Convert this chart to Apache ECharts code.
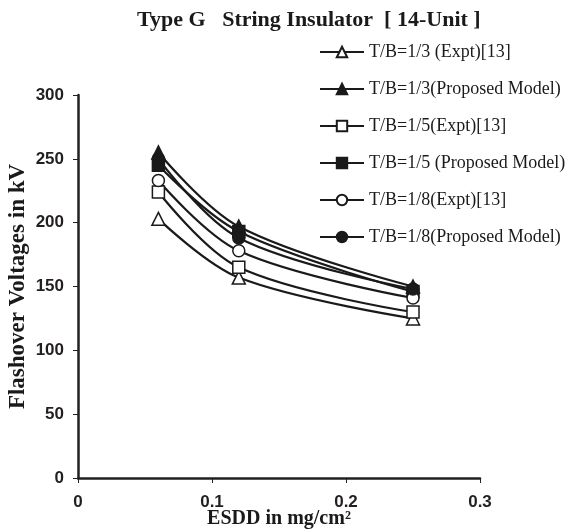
<!DOCTYPE html>
<html>
<head>
<meta charset="utf-8">
<script src="https://cdn.jsdelivr.net/npm/echarts@6/dist/echarts.min.js"></script>
<style>
  html, body { margin: 0; padding: 0; background: #fff; }
  #chart { width: 572px; height: 532px; }
</style>
</head>
<body>
<div id="chart"></div>
<script>
// ESDD values (mg/cm2)
var esdd = [0.06, 0.12, 0.25];

var names = [
    'T/B=1/3 (Expt)[13]',
    'T/B=1/3(Proposed Model)',
    'T/B=1/5(Expt)[13]',
    'T/B=1/5 (Proposed Model)',
    'T/B=1/8(Expt)[13]',
    'T/B=1/8(Proposed Model)'
];

// flashover voltages in kV
var tb3Expt = [203, 157, 125];
var tb3Model = [255, 197, 150];
var tb5Expt = [224, 165, 130];
var tb5Model = [245, 193, 146];
var tb8Expt = [233, 178, 141];
var tb8Model = [250, 188, 148];

var yTicks = [0, 50, 100, 150, 200, 250, 300];
var xTicks = [0, 0.1, 0.2, 0.3];

var symbols = ['triangle', 'triangle', 'rect', 'rect', 'circle', 'circle'];
var filled = [false, true, false, true, false, true];
var values = [tb3Expt, tb3Model, tb5Expt, tb5Model, tb8Expt, tb8Model];

function makeSeries(i) {
    var pts = esdd.map(function (x, k) { return [x, values[i][k]]; });
    return {
        name: names[i],
        type: 'line',
        data: pts,
        smooth: 0.35,
        symbol: symbols[i],
        symbolSize: symbols[i] === 'triangle' ? 13 : 12,
        showAllSymbol: true,
        lineStyle: { color: '#1a1a1a', width: 2.2 },
        itemStyle: {
            color: filled[i] ? '#1a1a1a' : '#ffffff',
            borderColor: '#1a1a1a',
            borderWidth: 1.5
        },
        emphasis: { disabled: true },
        animation: false
    };
}

var myChart = echarts.init(document.getElementById('chart'));
var option = {
    backgroundColor: '#fff',
    title: {
        text: 'Type G   String Insulator  [ 14-Unit ]',
        left: 132,
        top: 4,
        textStyle: {
            fontFamily: 'Liberation Serif',
            fontWeight: 'bold',
            fontSize: 22,
            color: '#1a1a1a'
        }
    },
    legend: {
        orient: 'vertical',
        left: 314,
        top: 38,
        itemWidth: 44,
        itemHeight: 13,
        itemGap: 19,
        data: names,
        textStyle: {
            fontFamily: 'Liberation Serif',
            fontSize: 18,
            color: '#1a1a1a'
        }
    },
    grid: {
        left: 78,
        right: 92,
        top: 95,
        bottom: 54,
        outerBoundsMode: 'none'
    },
    xAxis: {
        type: 'value',
        min: xTicks[0],
        max: xTicks[xTicks.length - 1],
        interval: 0.1,
        name: 'ESDD in mg/cm²',
        nameLocation: 'middle',
        nameGap: 31,
        nameMoveOverlap: false,
        nameTextStyle: {
            fontFamily: 'Liberation Serif',
            fontWeight: 'bold',
            fontSize: 20,
            color: '#1a1a1a'
        },
        axisLine: { lineStyle: { color: '#231f20', width: 2.5 } },
        axisTick: { show: true, length: 5, lineStyle: { color: '#231f20', width: 1 } },
        axisLabel: {
            fontFamily: 'Liberation Sans',
            fontWeight: 'bold',
            fontSize: 17,
            color: '#231f20',
            margin: 16
        },
        splitLine: { show: false }
    },
    yAxis: {
        type: 'value',
        min: yTicks[0],
        max: yTicks[yTicks.length - 1],
        interval: 50,
        name: 'Flashover Voltages in kV',
        nameLocation: 'middle',
        nameGap: 48,
        nameMoveOverlap: false,
        nameRotate: 90,
        nameTextStyle: {
            fontFamily: 'Liberation Serif',
            fontWeight: 'bold',
            fontSize: 23,
            color: '#1a1a1a'
        },
        axisLine: { show: true, lineStyle: { color: '#231f20', width: 2.5 } },
        axisTick: { show: true, length: 5, lineStyle: { color: '#231f20', width: 1 } },
        axisLabel: {
            fontFamily: 'Liberation Sans',
            fontWeight: 'bold',
            fontSize: 17,
            color: '#231f20',
            margin: 14
        },
        splitLine: { show: false }
    },
    series: [0, 1, 2, 3, 4, 5].map(makeSeries)
};
myChart.setOption(option, true);
</script>
</body>
</html>
